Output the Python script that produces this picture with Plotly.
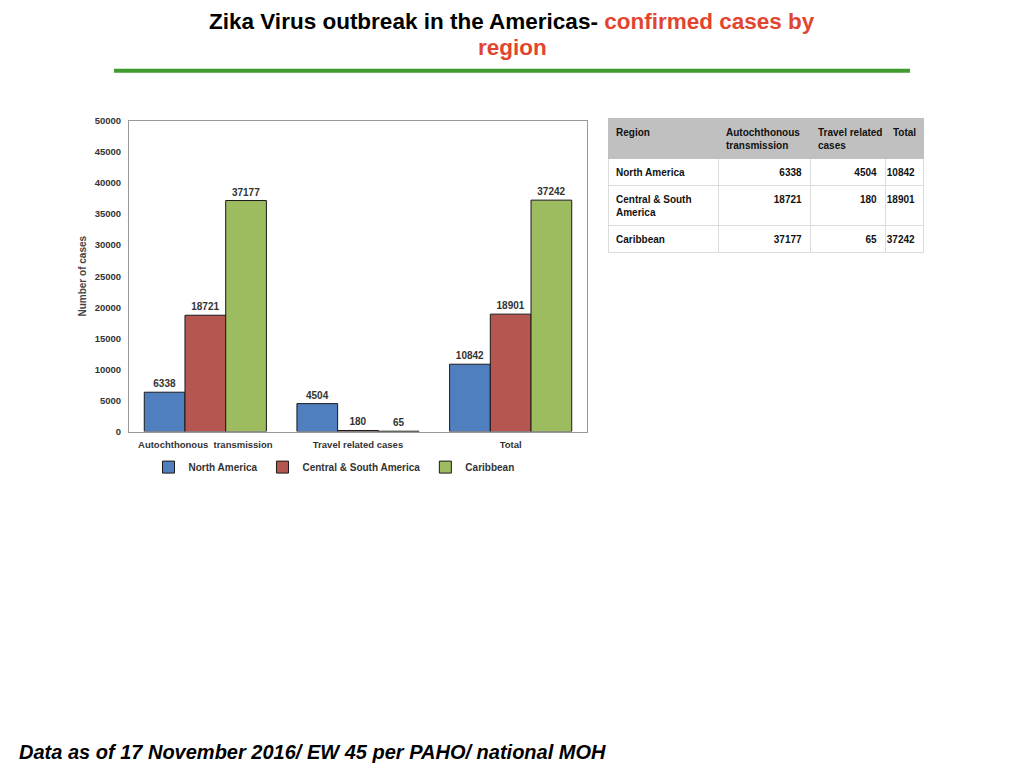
import plotly.graph_objects as go

# Chart data
categories = ["Autochthonous  transmission", "Travel related cases", "Total"]
regions = ["North America", "Central & South America", "Caribbean"]
north_america = [6338, 4504, 10842]
central_south_america = [18721, 180, 18901]
caribbean = [37177, 65, 37242]

y_ticks = list(range(0, 50001, 5000))

# Table labels
table_header = ["Region", "Autochthonous<br>transmission", "Travel related<br>cases", "Total"]
table_regions = ["North America", "Central & South<br>America", "Caribbean"]

colors = ["#4f7fbe", "#b65650", "#9dbb5f"]
series = [north_america, central_south_america, caribbean]

# page body has an 8px margin; vertical mapping
OFF = 8
W, H = 1024 - 2 * OFF, 770
SY, Y0 = 0.9864, 13.1


def px_x(x):
    return (x - OFF) / W


def px_y(y):
    return 1 - ((y - Y0) / SY) / H


fig = go.Figure()

for name, vals, col in zip(regions, series, colors):
    fig.add_trace(go.Bar(
        x=categories, y=vals, name=name,
        marker=dict(color=col, line=dict(color="#1a1a1a", width=1)),
        text=[str(v) for v in vals], textposition="outside",
        textfont=dict(family="Liberation Sans", size=10, color="#333333", weight="bold"),
        cliponaxis=False,
    ))

# Table: columns from the series arrays
fig.add_trace(go.Table(
    domain=dict(x=[px_x(608), px_x(923)], y=[px_y(500), px_y(118)]),
    columnwidth=[110, 92, 75, 38],
    header=dict(
        values=["<b>%s</b>" % h for h in table_header],
        fill_color="#c0c0c0",
        line_color="#c0c0c0",
        align="left",
        height=26,
        font=dict(family="Liberation Sans", size=10, color="#111111"),
    ),
    cells=dict(
        values=[
            ["<b>%s</b>" % r for r in table_regions],
            ["<b>%d</b>" % v for v in [north_america[0], central_south_america[0], caribbean[0]]],
            ["<b>%d</b>" % v for v in [north_america[1], central_south_america[1], caribbean[1]]],
            ["<b>%d</b>" % v for v in [north_america[2], central_south_america[2], caribbean[2]]],
        ],
        fill_color="white",
        line_color="#dcdcdc",
        align=["left", "right", "right", "right"],
        height=20,
        font=dict(family="Liberation Sans", size=10, color="#111111"),
    ),
))

fig.update_layout(
    width=W, height=H,
    margin=dict(l=0, r=0, t=0, b=0),
    paper_bgcolor="white", plot_bgcolor="white",
    barmode="group", bargap=0.2, bargroupgap=0,
    font=dict(family="Liberation Sans", size=9.5, color="#333333"),
    xaxis=dict(
        domain=[px_x(129), px_x(587)],
        showline=True, linecolor="#999999", linewidth=1, mirror=True,
        ticks="", showgrid=False, ticklabelstandoff=4,
        tickfont=dict(size=9.5, color="#333333", weight="bold"),
    ),
    yaxis=dict(
        domain=[px_y(431), px_y(120)],
        range=[0, 50000], tickvals=y_ticks, tickformat="d",
        showline=True, linecolor="#999999", linewidth=1, mirror=True,
        ticks="", showgrid=False, zeroline=False, ticklabelstandoff=5,
        tickfont=dict(size=9.5, color="#333333", weight="bold"),
        title=dict(text="Number of cases", standoff=6,
                   font=dict(size=10, color="#444444", weight="bold")),
    ),
    legend=dict(
        orientation="h", x=px_x(334), y=px_y(452), xanchor="center", yanchor="top",
        font=dict(size=10, color="#333333", weight="bold"),
        itemwidth=30, traceorder="normal",
    ),
    annotations=[
        dict(text="<b>Zika Virus outbreak in the Americas- "
                  "<span style='color:#e2452f'>confirmed cases by</span></b>",
             x=px_x(512), y=px_y(21), xref="paper", yref="paper", showarrow=False,
             yanchor="middle", borderpad=0,
             font=dict(family="Liberation Sans", size=22.5, color="black")),
        dict(text="<b>region</b>",
             x=px_x(512), y=px_y(47), xref="paper", yref="paper", showarrow=False,
             yanchor="middle", borderpad=0,
             font=dict(family="Liberation Sans", size=22.5, color="#e2452f")),
        dict(text="<b><i>Data as of 17 November 2016/ EW 45 per PAHO/ national MOH</i></b>",
             x=px_x(18), y=px_y(752), xref="paper", yref="paper", xanchor="left",
             yanchor="middle", borderpad=0, showarrow=False,
             font=dict(family="Liberation Sans", size=20, color="black")),
    ],
    shapes=[
        dict(type="line", xref="paper", yref="paper",
             x0=px_x(114), x1=px_x(910), y0=px_y(70), y1=px_y(70),
             line=dict(color="#3f9b2c", width=4)),
    ],
)

fig.write_html("out.html")
